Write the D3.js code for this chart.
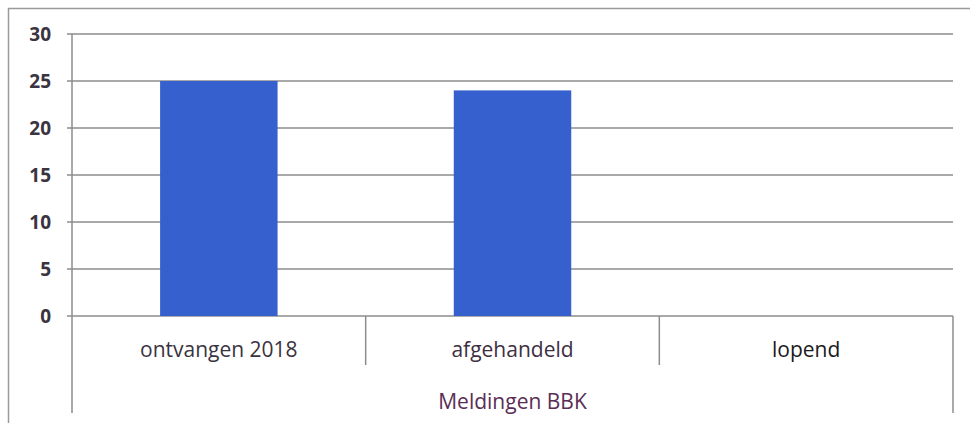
<!DOCTYPE html>
<html><head><meta charset="utf-8">
<script src="https://cdn.jsdelivr.net/npm/d3@7/dist/d3.min.js"></script>
<style>body{margin:0;background:#fff;}svg{display:block;}</style>
</head><body>
<svg id="c" width="970" height="423"></svg>
<script>
const categories = ["ontvangen 2018", "afgehandeld", "lopend"];
const values = [25, 24, 0];
const yTicks = [0, 5, 10, 15, 20, 25, 30];
const groupLabel = "Meldingen BBK";

const svg = d3.select("#c");
const mLeft = 72, mRight = 953, mTop = 34, mBottom = 316;
const font = "'Open Sans', 'Noto Sans', sans-serif";

// outer frame
svg.append("path").attr("d", "M8.5,423 V8.5 H970").attr("fill", "none")
  .attr("stroke", "#9a9a9a").attr("stroke-width", 1.5);

const x = d3.scaleBand().domain(categories).range([mLeft, mRight]).paddingInner(0.6).paddingOuter(0.3);
const xOuter = d3.scaleBand().domain(categories).range([mLeft, mRight]);
const y = d3.scaleLinear().domain([0, 30]).range([mBottom, mTop]);

// gridlines
svg.append("g").selectAll("line").data(yTicks).join("line")
  .attr("x1", mLeft - 5).attr("x2", mRight)
  .attr("y1", d => y(d)).attr("y2", d => y(d))
  .attr("stroke", "#8c8c8c").attr("stroke-width", 1.5);

// y axis labels
svg.append("g").selectAll("text").data(yTicks).join("text")
  .attr("x", 51).attr("y", d => y(d)).attr("dy", "0.35em")
  .attr("text-anchor", "end").attr("font-family", font).attr("font-weight", "700")
  .attr("font-size", 19).attr("fill", "#3a3340").text(d => d);

// y axis line
svg.append("line").attr("x1", mLeft).attr("x2", mLeft).attr("y1", mTop).attr("y2", 413)
  .attr("stroke", "#8c8c8c").attr("stroke-width", 1.5);

// category dividers
const dividers = categories.slice(1).map(c => xOuter(c));
svg.append("g").selectAll("line").data(dividers).join("line")
  .attr("x1", d => d).attr("x2", d => d).attr("y1", mBottom).attr("y2", 365)
  .attr("stroke", "#8c8c8c").attr("stroke-width", 1.5);
svg.append("line").attr("x1", mRight).attr("x2", mRight).attr("y1", mBottom).attr("y2", 413)
  .attr("stroke", "#8c8c8c").attr("stroke-width", 1.5);

// bars
svg.append("g").selectAll("rect").data(categories).join("rect")
  .attr("x", d => x(d)).attr("width", x.bandwidth())
  .attr("y", (d, i) => y(values[i])).attr("height", (d, i) => y(0) - y(values[i]))
  .attr("fill", "#3560cd");

// category labels
const labelColors = ["#3a3340", "#3d2f3f", "#1a1a1a"];
svg.append("g").selectAll("text").data(categories).join("text")
  .attr("x", d => xOuter(d) + xOuter.bandwidth() / 2).attr("y", 350).attr("dy", "0.35em")
  .attr("text-anchor", "middle").attr("font-family", font).attr("font-size", 21)
  .attr("fill", (d, i) => labelColors[i]).text(d => d);

// group label
svg.append("text").attr("x", (mLeft + mRight) / 2).attr("y", 402).attr("dy", "0.35em")
  .attr("text-anchor", "middle").attr("font-family", font).attr("font-size", 21)
  .attr("fill", "#5a2d55").text(groupLabel);
</script>
</body></html>
